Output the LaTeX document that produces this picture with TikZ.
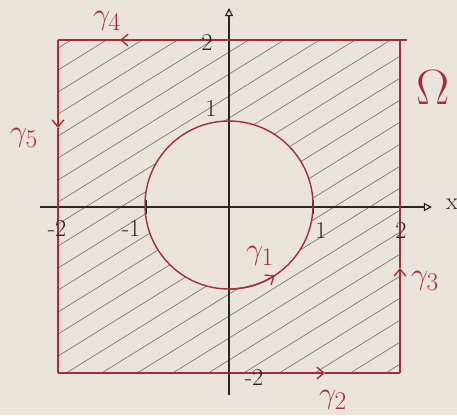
\documentclass[tikz,border=0pt]{standalone}
\usetikzlibrary{arrows.meta,calc}
\definecolor{bg}{RGB}{235,228,221}
\definecolor{pen}{RGB}{168,44,56}
\definecolor{hatch}{RGB}{125,119,113}
\tikzset{
  bound/.style={draw=pen, line width=1.2pt},
  axis/.style={draw=black!85, line width=1pt},
  hatchline/.style={draw=hatch, line width=0.6pt},
  midtip/.style={-{Straight Barb[length=6pt,width=10pt]}},
  num/.style={font=\huge, text=black!85, inner sep=0pt},
  glabel/.style={font=\Huge, scale=1.05, text=pen, inner sep=0pt},
  tick/.style={draw=black!85, line width=1pt}
}
\begin{document}
\begin{tikzpicture}[x=0.03cm, y=-0.03cm]
\useasboundingbox (0,0) rectangle (457,415);
\fill[bg] (0,0) rectangle (457,415);
% corners
\coordinate (BL) at (58,373);
\coordinate (BR) at (400,373);
\coordinate (TR) at (400,40);
\coordinate (TL) at (58,40);
\coordinate (TRx) at (407,40);
\coordinate (O) at (229,205);
% hatching
\begin{scope}[even odd rule]
\clip (BL) rectangle (TR) (O) circle (84);
\foreach \c in {40,62,...,700}{
  \draw[hatchline] (0,\c) -- (460,\c-285);
}
\end{scope}
% axes
\coordinate (xs) at (40,207);
\coordinate (xe) at (432,207);
\coordinate (ys) at (229,395);
\coordinate (ye) at (229,8);
\draw[axis, -{Triangle[open,length=7pt,width=7pt]}] (xs) -- (xe);
\draw[axis, -{Triangle[open,length=7pt,width=7pt]}] (ys) -- (ye);
\node[font=\huge, text=black!85] (xl) at (452,204) {x};
% ticks
\foreach \x in {58,146,313,400}{\draw[tick] (\x,200) -- (\x,214);}
\draw[tick] (222,40) -- (236,40);
\draw[tick] (222,373) -- (236,373);
% boundary
\coordinate (m2) at (325,373);
\coordinate (m3) at (400,268);
\coordinate (m4) at (120,40);
\coordinate (m5) at (58,128);
\draw[bound, midtip] (BL) -- (m2);
\draw[bound] (m2) -- (BR);
\draw[bound, midtip] (BR) -- (m3);
\draw[bound] (m3) -- (TR);
\draw[bound] (TRx) -- (m4);
\draw[bound, midtip] (TR) -- (m4);
\draw[bound] (m4) -- (TL);
\draw[bound, midtip] (TL) -- (m5);
\draw[bound] (m5) -- (BL);
% circle
\draw[bound] (O) circle (84);
\draw[bound, midtip] ($(O)+(0,84)$) arc[start angle=90, end angle=57, radius=84];
% numbers
\node[num] (n2t) at (207,42) {2};
\node[num] (n1t) at (211,108) {1};
\node[num] (nm2) at (57,228) {-2};
\node[num] (nm1) at (131,228) {-1};
\node[num] (n1) at (321,230) {1};
\node[num] (n2) at (401,230) {2};
\node[num] (nb2) at (254,377) {-2};
% labels
\node[glabel] (g1) at (260,256) {$\gamma_1$};
\node[glabel] (g2) at (333,400) {$\gamma_2$};
\node[glabel] (g3) at (425,281) {$\gamma_3$};
\node[glabel] (g4) at (107,21) {$\gamma_4$};
\node[glabel] (g5) at (24,138) {$\gamma_5$};
\node[font=\Huge, scale=1.7, text=pen, inner sep=0pt] (om) at (433,88) {$\Omega$};
\end{tikzpicture}
\end{document}
